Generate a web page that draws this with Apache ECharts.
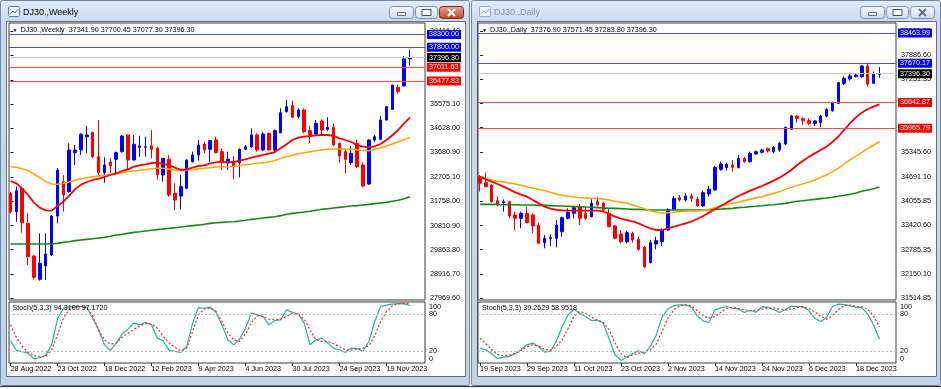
<!DOCTYPE html>
<html><head><meta charset="utf-8">
<script src="https://cdn.jsdelivr.net/npm/echarts@6/dist/echarts.min.js"></script>
<style>html,body{margin:0;padding:0;background:#fff;}#c{width:941px;height:389px;}</style>
</head><body><div id="c"></div>
<script>
// ---------- DATA ----------
const wDateIdx = [0,8,16,24,32,40,48,56,64];
const wDateLabels = ["28 Aug 2022","23 Oct 2022","18 Dec 2022","12 Feb 2023","9 Apr 2023","4 Jun 2023","30 Jul 2023","24 Sep 2023","19 Nov 2023"];
const dDateIdx = [0,8,16,24,32,40,48,56,64];
const dDateLabels = ["19 Sep 2023","29 Sep 2023","11 Oct 2023","23 Oct 2023","2 Nov 2023","14 Nov 2023","24 Nov 2023","6 Dec 2023","18 Dec 2023"];

const wTicks = [27969.60,28916.70,29863.80,30810.90,31758.00,32705.10,33680.90,34628.00,35575.10,36522.20,37469.30,38416.40];
const dTicks = [31514.85,32150.10,32785.35,33420.60,34055.85,34691.10,35345.60,35980.85,36616.10,37251.35,37886.60,38521.85];

const wLevelsBlue = [38300.00,37800.00];
const wLevelsRed = [37011.63,36477.83];
const dLevelsBlue = [38463.99,37670.17];
const dLevelsRed = [36642.87,35965.79];
const lastPrice = 37396.30;

// Weekly OHLC
const wO = [32073,31355,32269,30897,29616,28702,29224,29656,31185,32530,32138,33667,33772,34295,34464,33511,32883,33301,33406,33707,34360,33380,33876,33876,33929,33837,32792,33406,32073,31969,32269,33315,33576,34007,33798,34164,33707,33275,33315,33275,33798,33902,34360,33772,34425,33772,34451,35275,35510,35079,35340,34530,34399,34909,34582,34660,34033,33707,33275,34033,33184,32439,34164,34190,34948,35366,36230,36281,37341.90];
const wH = [32138,32335,32335,31289,29656,30505,30505,31224,33053,32792,34033,33968,34425,34713,34490,34948,33484,33445,33707,34360,34386,34360,34334,34295,34556,33902,33445,33576,32465,32792,33406,33707,34164,34099,34164,34295,33837,33707,33537,33837,33968,34621,34425,34490,34451,34582,35405,35732,35706,35405,35405,34713,34948,34974,35053,34817,34059,33772,33929,34190,33275,34190,34360,35105,35497,36320,36320,37457,37700.45];
const wL = [31289,30963,30531,29264,28702,28650,28676,29616,30897,31355,32099,33184,33576,33641,33445,32727,32491,32857,32792,33667,32988,33354,33511,33511,33445,32622,32530,31942,31420,31446,32230,33275,33354,33641,33315,33641,32988,32988,32622,32700,33772,33837,33707,33746,33746,33641,34425,35235,35013,35013,34425,34033,34360,34360,34530,33929,33275,32857,33184,33053,32308,32400,34099,34164,34922,35340,35990,36255,37077.30];
const wC = [31355,32178,30923,29590,28780,29329,29695,31185,32988,32008,33772,33772,34386,34360,33511,32883,33184,33145,33667,34321,33380,33994,33929,33902,33798,32792,33445,32008,31812,32335,33380,33576,33968,33772,34138,33667,33275,33406,33119,33798,33902,34360,33772,34399,33772,34530,35235,35471,35053,35340,34490,34295,34817,34556,34660,33968,33537,33406,33641,33119,32361,34164,34295,34948,35471,36320,36060,37339,37396.30];
const wMaRed = [32557,32465,32269,32008,31707,31511,31407,31394,31577,31747,31982,32230,32413,32517,32596,32648,32713,32792,32857,32949,33014,33119,33171,33210,33262,33275,33223,33184,33079,32988,33014,33079,33145,33171,33249,33288,33315,33288,33301,33354,33406,33471,33524,33576,33628,33693,33837,33994,34164,34255,34295,34321,34347,34360,34360,34321,34229,34164,34085,33968,33903,33876,33916,34007,34164,34347,34556,34817,35039];
const wMaOrange = [33119,33092,33040,32962,32831,32687,32544,32439,32426,32465,32517,32583,32648,32687,32727,32753,32779,32818,32844,32883,32923,32949,32975,33001,33040,33053,33053,33027,32988,32962,32988,33001,33027,33053,33079,33119,33119,33119,33132,33158,33197,33223,33249,33275,33301,33354,33445,33511,33563,33628,33667,33707,33746,33772,33798,33811,33824,33811,33798,33772,33759,33746,33798,33850,33929,34007,34085,34177,34268];
const wMaGreen = [30087,30087,30087,30087,30087,30087,30087,30087,30113,30152,30178,30218,30244,30270,30296,30322,30348,30388,30440,30466,30505,30544,30570,30597,30623,30649,30675,30701,30727,30753,30780,30806,30832,30858,30897,30923,30936,30949,30962,30989,31015,31054,31080,31106,31132,31158,31198,31250,31289,31315,31341,31368,31407,31446,31472,31498,31524,31550,31577,31590,31616,31642,31668,31694,31720,31760,31799,31864,31943];
const wStochK = [36.9,20.6,18.4,16.2,6.9,8.6,12.9,29.8,72.0,89.8,91.5,92.6,92.6,91.5,73.4,54.4,29.8,20.6,32.6,47.8,55.5,65.3,62.6,66.9,62.6,40.8,36.4,20.6,18.9,17.3,27.1,65.3,90.9,89.8,91.5,82.8,62.6,38.0,29.8,39.1,57.1,81.7,78.9,76.2,62.6,69.7,70.8,87.1,82.8,80.6,65.3,29.8,38.0,40.8,32.6,24.4,21.7,17.3,24.4,23.8,18.9,35.3,68.0,92.6,94.8,96.4,97.5,96.9,94.31];
const wStochD = [62.6,42.4,27.1,17.3,12.4,10.2,10.8,21.7,46.2,73.5,88.2,92.0,92.6,89.8,77.3,54.4,38.0,30.9,32.6,42.4,48.9,54.9,60.9,64.8,63.7,57.1,43.5,32.6,25.5,20.0,24.4,51.7,78.9,88.8,89.8,84.4,68.0,48.9,38.0,35.3,47.3,66.4,77.3,76.2,71.9,70.8,71.9,76.2,81.7,80.0,71.9,54.4,38.0,35.3,35.3,31.5,27.1,21.7,21.1,22.7,24.4,28.2,44.6,68.0,84.4,93.7,97.0,97.5,97.172];

// Daily OHLC
const dO = [34697,34539,34478,34067,34015,34041,33692,33604,33735,33692,33429,32966,33071,33080,33255,33604,33735,33910,33735,33648,34041,33997,33735,33403,33193,32992,33211,33054,32844,32442,32931,32992,33298,33840,34146,34085,34190,34102,33928,34242,34347,34889,34933,35003,34933,35177,35090,35291,35335,35431,35352,35396,35553,35938,36287,36217,36165,36095,36113,36287,36427,36619,37144,37257,37319,37319,37598,37144,37376.90];
const dH = [34740,34801,34504,34172,34102,34059,33779,33779,33910,33735,33490,33167,33185,33560,33648,33866,33910,33980,33910,34102,34172,34041,33866,33429,33298,33281,33255,33123,32879,33036,33123,33342,33866,34190,34216,34260,34260,34172,34330,34452,34976,35090,35064,35134,35265,35221,35352,35378,35431,35466,35501,35614,36008,36314,36314,36252,36226,36182,36314,36488,36663,37188,37319,37423,37406,37625,37686,37450,37571.45];
const dL = [34303,34417,34015,33928,33779,33604,33298,33342,33473,33211,32931,32818,32879,32844,33123,33578,33604,33429,33560,33630,33910,33779,33368,33054,32949,32949,32966,32756,32293,32424,32791,32879,33281,33805,34041,34041,34041,33910,33910,34172,34330,34854,34854,34828,34915,35064,35064,35265,35308,35326,35308,35352,35527,35920,36113,36051,36051,36025,35990,36252,36401,36602,37100,37214,37301,37292,37056,37126,37283.80];
const dC = [34522,34434,34041,33954,34041,33665,33604,33735,33490,33403,32949,33080,33097,33429,33622,33761,33884,33604,33604,33997,33954,33823,33386,33080,32992,33228,33036,32791,32337,32966,33018,33298,33840,34129,34085,34190,34129,33928,34277,34365,34941,35029,35020,34941,35177,35090,35308,35352,35396,35370,35466,35571,35990,36287,36226,36165,36095,36156,36287,36462,36637,37161,37275,37336,37362,37598,37126,37406,37396.30];
const dMaRed = [34697,34627,34565,34504,34434,34364,34286,34225,34172,34085,33997,33910,33858,33823,33814,33805,33805,33805,33805,33805,33805,33788,33718,33648,33595,33560,33525,33473,33403,33342,33298,33298,33342,33386,33429,33473,33517,33587,33665,33753,33840,33927,34015,34102,34190,34260,34330,34391,34452,34522,34592,34670,34767,34871,35002,35116,35221,35308,35396,35483,35606,35745,35920,36095,36252,36375,36471,36532,36593];
const dMaOrange = [34679,34644,34609,34583,34557,34531,34504,34469,34434,34399,34364,34330,34286,34242,34207,34181,34163,34146,34137,34128,34128,34111,34085,34050,34024,33997,33954,33910,33858,33805,33770,33744,33753,33761,33779,33788,33796,33796,33814,33840,33884,33927,33962,33997,34032,34067,34102,34137,34172,34216,34260,34303,34364,34417,34461,34513,34557,34609,34679,34740,34828,34915,35029,35134,35238,35335,35431,35527,35614];
const dMaGreen = [33971,33971,33971,33971,33962,33962,33962,33954,33954,33954,33945,33945,33936,33927,33927,33919,33910,33910,33901,33893,33884,33875,33866,33866,33858,33849,33840,33840,33831,33823,33823,33823,33823,33823,33823,33823,33823,33823,33823,33831,33840,33849,33858,33866,33884,33893,33910,33919,33936,33954,33962,33980,33997,34024,34050,34067,34085,34102,34120,34137,34155,34181,34207,34233,34268,34312,34347,34382,34426];
const dStochK = [24.4,21.7,15.1,7.5,9.7,10.8,15.1,21.7,29.8,32.6,26.6,17.8,19.5,35.3,59.8,78.9,88.2,81.7,75.7,69.7,70.2,65.3,39.1,13.5,4.2,9.7,15.7,20.0,15.1,27.7,45.2,75.1,88.8,94.2,95.3,95.3,91.5,77.3,68.6,66.4,87.1,90.4,92.6,89.8,88.2,82.8,86.0,83.3,92.0,91.5,87.7,82.8,87.7,93.1,92.6,92.6,85.5,73.5,68.0,74.5,92.6,96.4,95.8,93.7,91.5,90.9,80.6,62.0,39.2629];
const dStochD = [40.8,31.5,21.7,13.5,11.8,12.9,16.2,20.6,26.6,29.8,27.7,22.7,20.6,27.1,38.0,56.6,76.2,84.4,81.7,75.1,70.8,66.4,54.4,32.6,15.1,8.6,12.9,16.2,17.8,21.7,31.0,51.7,73.5,87.1,93.7,95.3,93.7,86.0,77.3,73.5,76.2,82.8,89.8,91.5,89.3,87.1,86.0,86.6,88.2,89.8,90.4,88.2,87.1,88.8,90.9,91.5,89.3,83.9,76.2,71.9,77.8,87.1,94.2,94.8,93.1,92.0,88.2,77.3,58.9518];

// ---------- BUILD ----------
const FONT = '"Liberation Sans", Arial, sans-serif';
const FS = 7.2;
const candles = (O,H,L,C) => O.map((o,i)=>[i,o,C[i],L[i],H[i]]);
const pts = a => a.map((v,i)=>[i,v]);
const last = a => a[a.length-1];

// one markLine series per colour group
function levelSeries(xi, values, lineColor, bg){
  return {type:'line', xAxisIndex:xi, yAxisIndex:xi, data:[], clip:false, silent:true, z:1,
    color: lineColor,
    markLine:{symbol:['none','none'], silent:true, animation:false,
      lineStyle:{color:lineColor, width:1, type:'solid', opacity:1},
      emphasis:{lineStyle:{color:lineColor, width:1}},
      label:{show:true, position:'end', distance:2, color:'#fff', backgroundColor:bg,
        padding:[1,2,0,2], fontSize:FS, fontFamily:FONT, lineHeight:8,
        formatter: p => Number(p.value).toFixed(2)},
      data: values.map(v=>({yAxis:v}))}};
}

const gridBase = {show:true, borderColor:'#3a3a3a', borderWidth:1, backgroundColor:'transparent'};
const W = {left:9, width:416, xmin:-0.25, xmax:70.56};
const D = {left:478, width:418, xmin:-0.33, xmax:70.82};

function xMain(gi, g){ return {type:'value', gridIndex:gi, min:g.xmin, max:g.xmax, show:false}; }
function xStoch(gi, g, idx, labels){
  return {type:'value', gridIndex:gi, min:g.xmin, max:g.xmax,
    axisLine:{show:false}, splitLine:{show:false},
    axisTick:{show:true, customValues:idx, length:3, lineStyle:{color:'#222'}},
    axisLabel:{show:true, customValues:idx, formatter:v=>labels[idx.indexOf(Math.round(v))], align:'left',
      margin:3, fontSize:FS, fontFamily:FONT, color:'#000'}};
}
function yMain(gi, min, max, ticks){
  return {type:'value', gridIndex:gi, position:'right', min, max,
    axisLine:{show:false}, splitLine:{show:false},
    axisTick:{show:true, customValues:ticks, length:3, lineStyle:{color:'#222'}},
    axisLabel:{show:true, customValues:ticks, formatter:v=>v.toFixed(2), margin:5, fontSize:FS, fontFamily:FONT, color:'#000'}};
}
function yStoch(gi){
  const st = {fontSize:FS, fontFamily:FONT, color:'#000'};
  return {type:'value', gridIndex:gi, position:'right', min:0, max:100,
    axisLine:{show:false}, splitLine:{show:false}, axisTick:{show:false},
    axisLabel:{show:true, customValues:[0,20,80,100], margin:4,
      formatter:v=> v===100?'{t|100}': v===0?'{b|0}':'{m|'+v+'}',
      rich:{t:Object.assign({padding:[10,0,0,0]},st), b:Object.assign({padding:[0,0,8,0]},st), m:st}}};
}
const candleStyle = {color:'#0000ff', color0:'#ff0000', borderColor:'#0000ff', borderColor0:'#ff0000', borderWidth:1};
function candleSeries(xi, data){
  return {type:'candlestick', xAxisIndex:xi, yAxisIndex:xi, data, barWidth:3,
    dimensions:['i','open','close','lowest','highest'], encode:{x:'i', y:['open','close','lowest','highest']},
    itemStyle:candleStyle, silent:true, animation:false, z:2};
}
function lineSeries(xi, arr, color, width, type){
  return {type:'line', xAxisIndex:xi, yAxisIndex:xi, data:pts(arr), symbol:'none', showSymbol:false, color,
    lineStyle:{color, width, type:type||'solid'}, silent:true, animation:false, z:3};
}
function stochLevels(){
  return {symbol:['none','none'], silent:true, animation:false, label:{show:false},
    lineStyle:{color:'#bdbdbd', type:[2,2], width:1}, data:[{yAxis:80},{yAxis:20}]};
}

// ---------- CHROME ----------
const frameFill = {type:'linear', x:0, y:0, x2:0, y2:1, colorStops:[
  {offset:0,color:'#e2ecf8'},{offset:0.055,color:'#cadbef'},{offset:1,color:'#bfd3ea'}]};
function btnFill(){ return {type:'linear',x:0,y:0,x2:0,y2:1,colorStops:[{offset:0,color:'#f6f9fd'},{offset:1,color:'#cfdbea'}]}; }
function windowChrome(x0, title, active){
  const els = [];
  els.push({type:'rect', shape:{x:x0+0.5,y:0.5,width:469,height:385,r:2}, style:{fill:frameFill, stroke:'#6f88a6', lineWidth:1}, z:-90, silent:true});
  els.push({type:'rect', shape:{x:x0+6.5,y:21.5,width:459,height:355}, style:{fill:'#ffffff', stroke:'#6b6f75', lineWidth:1}, z:-80, silent:true});
  els.push({type:'rect', shape:{x:x0+8.5,y:6.5,width:11,height:10,r:1}, style:{fill:active?'#eef5fd':'#eef2f6', stroke:active?'#4f7fbf':'#9aaabc', lineWidth:1}, z:-70, silent:true});
  els.push({type:'polyline', shape:{points:[[x0+10,14],[x0+13,11],[x0+15,13],[x0+18,9]]}, style:{stroke:active?'#3d6fb5':'#9aaabc', lineWidth:1, fill:null}, z:-69, silent:true});
  els.push({type:'text', x:x0+23, y:13, style:{text:title, fill:active?'#000':'#8795a7', font:'9px '+FONT, verticalAlign:'middle', align:'left'}, z:-60, silent:true});
  const bx = x0+389;
  const defs = [[bx,24,'min'],[bx+26,22,'max'],[bx+50,24,'close']];
  defs.forEach(([x,w,k])=>{
    let fill = btnFill(), stroke='#7890ad';
    if(k==='close' && active){ fill = {type:'linear',x:0,y:0,x2:0,y2:1,colorStops:[{offset:0,color:'#eaa795'},{offset:1,color:'#c3402c'}]}; stroke='#7d2b20'; }
    els.push({type:'rect', shape:{x:x+0.5,y:6.5,width:w,height:12,r:3}, style:{fill, stroke, lineWidth:1}, z:-60, silent:true});
    const cx = x+0.5+w/2;
    if(k==='min') els.push({type:'rect', shape:{x:cx-4,y:12.5,width:8,height:3}, style:{fill:'#fff', stroke:'#3c5372', lineWidth:0.8}, z:-59, silent:true});
    if(k==='max') els.push({type:'rect', shape:{x:cx-4.5,y:9.5,width:9,height:6}, style:{fill:'#fff', stroke:'#3c5372', lineWidth:1}, z:-59, silent:true});
    if(k==='close'){
      const c = active?'#ffffff':'#5e6f86';
      els.push({type:'line', shape:{x1:cx-3.5,y1:9,x2:cx+3.5,y2:16}, style:{stroke:c,lineWidth:2}, z:-59, silent:true});
      els.push({type:'line', shape:{x1:cx+3.5,y1:9,x2:cx-3.5,y2:16}, style:{stroke:c,lineWidth:2}, z:-59, silent:true});
    }
  });
  return els;
}
function headerText(x, text){
  return [
    {type:'text', x:x, y:30.5, style:{text:'▼', fill:'#000', font:'5px '+FONT, verticalAlign:'middle'}, z:20, silent:true},
    {type:'text', x:x+8, y:30.5, style:{text:text, fill:'#000', font:FS+'px '+FONT, verticalAlign:'middle'}, z:20, silent:true}
  ];
}
function stochText(x, text){
  return {type:'text', x:x, y:308.5, style:{text:text, fill:'#000', font:FS+'px '+FONT, verticalAlign:'middle'}, z:20, silent:true};
}

const ohlc = (O,H,L,C) => [last(O),last(H),last(L),last(C)].map(v=>v.toFixed(2)).join(' ');
const graphicEls = [
  {type:'rect', shape:{x:0,y:0,width:941,height:389}, style:{fill:'#ffffff'}, z:-100, silent:true},
  ...windowChrome(0, 'DJ30.,Weekly', true),
  ...windowChrome(471, 'DJ30.,Daily', false),
  {type:'line', shape:{x1:0,y1:386.5,x2:941,y2:386.5}, style:{stroke:'#2e2e2e', lineWidth:1}, z:-50, silent:true},
  ...headerText(12.5, 'DJ30.,Weekly  ' + ohlc(wO,wH,wL,wC)),
  ...headerText(482, 'DJ30.,Daily  ' + ohlc(dO,dH,dL,dC)),
  stochText(12.5, 'Stoch(5,3,3) ' + last(wStochK).toFixed(4) + ' ' + last(wStochD).toFixed(4)),
  stochText(482, 'Stoch(5,3,3) ' + last(dStochK).toFixed(4) + ' ' + last(dStochD).toFixed(4))
];

const option = {
  animation:false,
  backgroundColor:'transparent',
  textStyle:{fontFamily:FONT},
  graphic:{elements:graphicEls},
  grid:[
    Object.assign({left:W.left, top:23, width:W.width, height:277}, gridBase),
    Object.assign({left:W.left, top:302, width:W.width, height:61}, gridBase),
    Object.assign({left:D.left, top:23, width:D.width, height:277}, gridBase),
    Object.assign({left:D.left, top:302, width:D.width, height:61}, gridBase)
  ],
  xAxis:[ xMain(0,W), xStoch(1,W,wDateIdx,wDateLabels), xMain(2,D), xStoch(3,D,dDateIdx,dDateLabels) ],
  yAxis:[ yMain(0,27892,38750,wTicks), yStoch(1), yMain(2,31462.7,38725.6,dTicks), yStoch(3) ],
  series:[
    levelSeries(0, [lastPrice], '#c8c8c8', '#000000'),
    levelSeries(0, wLevelsBlue, '#4a4aff', '#0000ff'),
    levelSeries(0, wLevelsRed, '#ff4a4a', '#ff0000'),
    candleSeries(0, candles(wO,wH,wL,wC)),
    lineSeries(0, wMaGreen, '#138a13', 1.6),
    lineSeries(0, wMaOrange, '#ffa500', 1.5),
    lineSeries(0, wMaRed, '#ff0000', 1.8),
    Object.assign(lineSeries(1, wStochK, '#20b2aa', 1.2), {markLine:stochLevels()}),
    lineSeries(1, wStochD, '#ff2020', 1.2, [2,2]),

    levelSeries(2, [lastPrice], '#c8c8c8', '#000000'),
    levelSeries(2, dLevelsBlue, '#4a4aff', '#0000ff'),
    levelSeries(2, dLevelsRed, '#ff4a4a', '#ff0000'),
    candleSeries(2, candles(dO,dH,dL,dC)),
    lineSeries(2, dMaGreen, '#138a13', 1.6),
    lineSeries(2, dMaOrange, '#ffa500', 1.5),
    lineSeries(2, dMaRed, '#ff0000', 1.8),
    Object.assign(lineSeries(3, dStochK, '#20b2aa', 1.2), {markLine:stochLevels()}),
    lineSeries(3, dStochD, '#ff2020', 1.2, [2,2])
  ]
};
const chart = echarts.init(document.getElementById('c'), null, {renderer:'canvas'});
chart.setOption(option);
</script>
</body></html>
